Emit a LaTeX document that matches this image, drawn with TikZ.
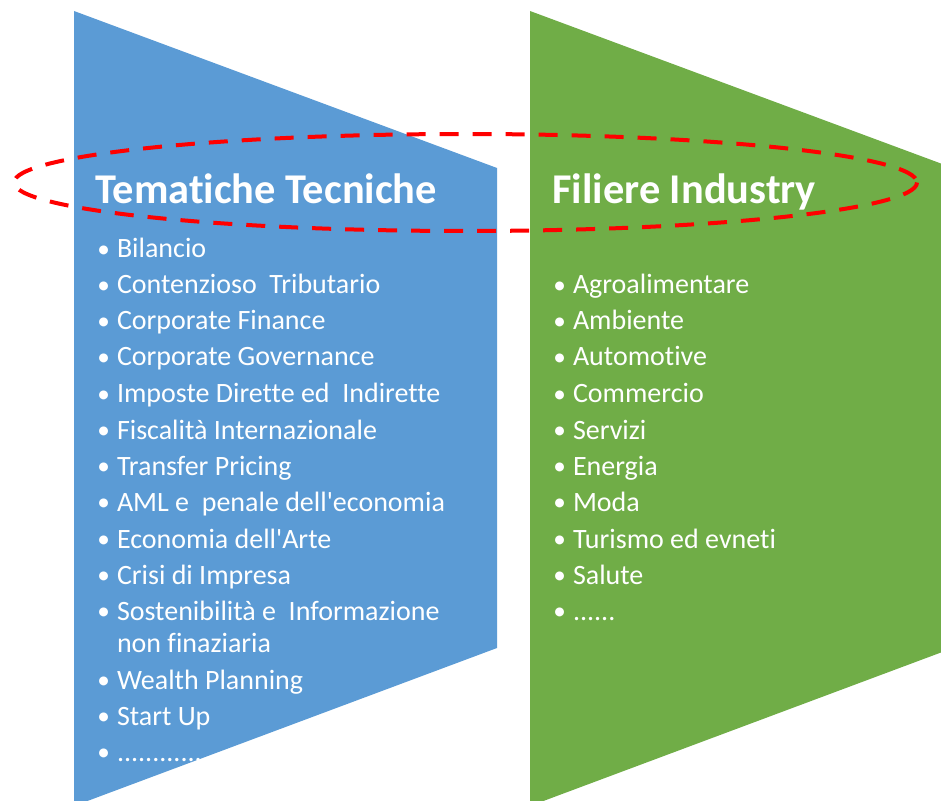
\documentclass[tikz,border=0pt]{standalone}
\usepackage{fontspec}
\setmainfont{Carlito}[Ligatures={NoCommon}]
\usepackage{tikz}
\usetikzlibrary{arrows}

\definecolor{tblue}{HTML}{5B9BD5}
\definecolor{fgreen}{HTML}{70AD47}
\newcommand{\itm}[1]{\makebox[9.8pt][l]{\raisebox{0.3pt}{\scalebox{0.9}{\textbullet}}}#1}
\tikzset{
  item/.style={anchor=base west,text=white,inner sep=0pt,font=\fontsize{14}{16}\selectfont},
  heading/.style={anchor=base west,text=white,inner sep=0pt,font=\fontsize{21.2}{25}\selectfont\bfseries}
}

\begin{document}
\begin{tikzpicture}[x=0.5pt,y=-0.5pt]
\useasboundingbox (0,0) rectangle (941,801);
\fill[tblue] (74,11)--(497,168)--(497,648)--(74,806)--cycle;
\fill[fgreen] (530,11)--(953,168)--(953,648)--(530,806)--cycle;
\node[heading] (tem) at (95,204) {Tematiche Tecniche};
\node[heading] (fil) at (552,204) {Filiere Industry};
\node[item] (t1) at (97,258) {\itm{Bilancio}};
\node[item] (t2) at (97,294) {\itm{Contenzioso\ \ Tributario}};
\node[item] (t3) at (97,330) {\itm{Corporate Finance}};
\node[item] (t4) at (97,366) {\itm{Corporate Governance}};
\node[item] (t5) at (97,403) {\itm{Imposte Dirette ed\ \ Indirette}};
\node[item] (t6) at (97,439) {\itm{Fiscalità Internazionale}};
\node[item] (t7) at (97,475) {\itm{Transfer Pricing}};
\node[item] (t8) at (97,511) {\itm{AML e\ \ penale dell\textquotesingle economia}};
\node[item] (t9) at (97,548) {\itm{Economia dell\textquotesingle Arte}};
\node[item] (t10) at (97,584) {\itm{Crisi di Impresa}};
\node[item] (t11) at (97,620) {\itm{Sostenibilità e\ \ Informazione}};
\node[item] (t11b) at (116.6,652) {non finaziaria};
\node[item] (t12) at (97,689) {\itm{Wealth Planning}};
\node[item] (t13) at (97,725) {\itm{Start Up}};
\node[item] (t14) at (97,761) {\itm{.................}};
\node[item] (f1) at (553,294) {\itm{Agroalimentare}};
\node[item] (f2) at (553,330) {\itm{Ambiente}};
\node[item] (f3) at (553,366) {\itm{Automotive}};
\node[item] (f4) at (553,403) {\itm{Commercio}};
\node[item] (f5) at (553,439) {\itm{Servizi}};
\node[item] (f6) at (553,475) {\itm{Energia}};
\node[item] (f7) at (553,511) {\itm{Moda}};
\node[item] (f8) at (553,548) {\itm{Turismo ed evneti}};
\node[item] (f9) at (553,584) {\itm{Salute}};
\node[item] (f10) at (553,620) {\itm{......}};
\draw[red,line width=2pt,dash pattern=on 9.5pt off 7pt] (465.5,182.5) ellipse [x radius=451.5,y radius=48.5];
\end{tikzpicture}
\end{document}
